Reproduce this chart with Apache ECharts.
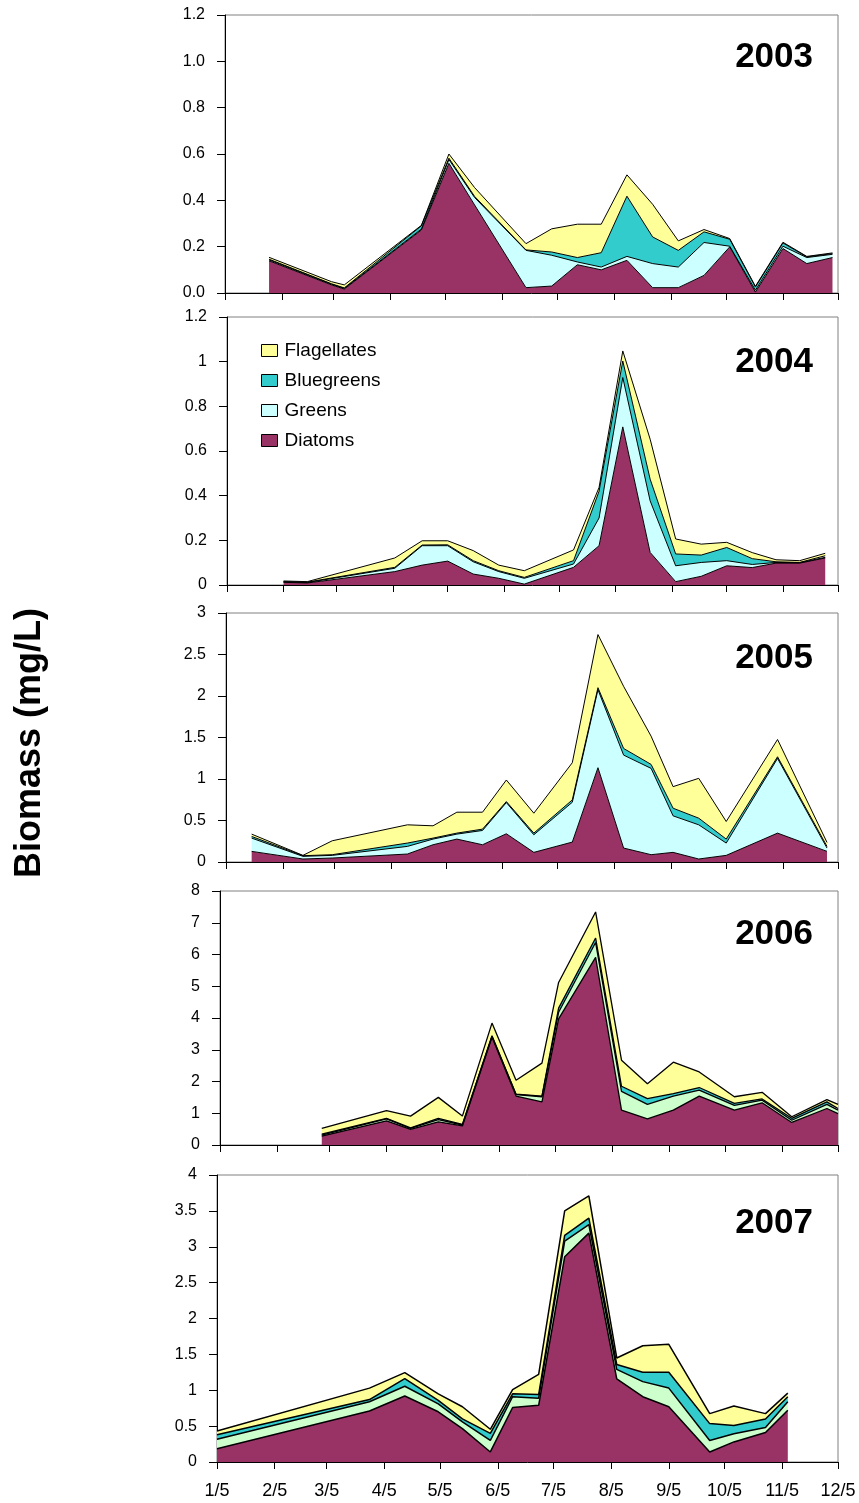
<!DOCTYPE html>
<html>
<head>
<meta charset="utf-8">
<script src="https://cdn.jsdelivr.net/npm/echarts@6/dist/echarts.min.js"></script>
<style>
  html, body { margin: 0; padding: 0; background: #fff; }
  #chart { width: 859px; height: 1503px; }
</style>
</head>
<body>
<div id="chart"></div>
<script>
(() => {
    // tick labels on the shared date axis (5th of each month)
    const TICK_LABELS = ['1/5', '2/5', '3/5', '4/5', '5/5', '6/5', '7/5', '8/5', '9/5', '10/5', '11/5', '12/5'];
    const GROUPS = ['Diatoms', 'Greens', 'Bluegreens', 'Flagellates'];

    // 2003
    const dates2003 = ['01-29', '03-04', '03-11', '04-22', '05-07', '05-21', '06-18', '07-02', '07-16', '07-29',
                       '08-12', '08-26', '09-09', '09-23', '10-07', '10-21', '11-05', '11-18', '12-02'];
    const diatoms2003     = [0.139, 0.035, 0.017, 0.272, 0.560, 0.380, 0.023, 0.030, 0.122, 0.100, 0.141, 0.023, 0.023, 0.076, 0.199, 0.004, 0.192, 0.127, 0.153];
    const greens2003      = [0.004, 0.003, 0.003, 0.004, 0.016, 0.032, 0.161, 0.133, 0.012, 0.012, 0.017, 0.104, 0.089, 0.142, 0.003, 0.008, 0.010, 0.026, 0.014];
    const bluegreens2003  = [0.003, 0.002, 0.002, 0.014, 0.006, 0.005, 0.002, 0.014, 0.019, 0.062, 0.260, 0.115, 0.072, 0.046, 0.030, 0.014, 0.014, 0.003, 0.003];
    const flagellates2003 = [0.008, 0.009, 0.013, 0.002, 0.018, 0.038, 0.027, 0.100, 0.144, 0.123, 0.092, 0.141, 0.041, 0.010, 0.003, 0.003, 0.003, 0.002, 0.003];

    // 2004
    const dates2004 = ['02-05', '02-18', '04-06', '04-21', '05-05', '05-19', '06-02', '06-16', '07-13', '07-27',
                       '08-09', '08-24', '09-07', '09-21', '10-05', '10-19', '11-01', '11-14', '11-28'];
    const diatoms2004     = [0.012, 0.009, 0.060, 0.089, 0.107, 0.049, 0.030, 0.004, 0.079, 0.176, 0.708, 0.146, 0.015, 0.039, 0.086, 0.078, 0.098, 0.098, 0.121];
    const greens2004      = [0.002, 0.002, 0.015, 0.087, 0.069, 0.055, 0.030, 0.026, 0.015, 0.124, 0.221, 0.231, 0.071, 0.062, 0.023, 0.014, 0.003, 0.002, 0.003];
    const bluegreens2004  = [0.001, 0.002, 0.004, 0.003, 0.004, 0.005, 0.004, 0.004, 0.015, 0.120, 0.074, 0.097, 0.053, 0.033, 0.059, 0.026, 0.003, 0.001, 0.007];
    const flagellates2004 = [0.003, 0.002, 0.042, 0.019, 0.018, 0.045, 0.025, 0.030, 0.048, 0.017, 0.045, 0.179, 0.067, 0.049, 0.023, 0.027, 0.009, 0.008, 0.011];

    // 2005
    const dates2005 = ['01-19', '02-16', '03-04', '04-14', '04-28', '05-11', '05-25', '06-07', '06-22', '07-13',
                       '07-27', '08-10', '08-25', '09-06', '09-20', '10-05', '11-02', '11-29'];
    const diatoms2005     = [0.128, 0.036, 0.048, 0.096, 0.208, 0.276, 0.208, 0.340, 0.116, 0.240, 1.136, 0.168, 0.088, 0.116, 0.036, 0.080, 0.348, 0.128];
    const greens2005      = [0.160, 0.032, 0.032, 0.092, 0.068, 0.060, 0.172, 0.376, 0.212, 0.480, 0.940, 1.120, 1.040, 0.440, 0.412, 0.148, 0.900, 0.040];
    const bluegreens2005  = [0.020, 0.008, 0.008, 0.040, 0.012, 0.012, 0.016, 0.012, 0.020, 0.028, 0.024, 0.080, 0.048, 0.092, 0.080, 0.048, 0.020, 0.020];
    const flagellates2005 = [0.028, 0.004, 0.168, 0.220, 0.148, 0.252, 0.204, 0.260, 0.240, 0.448, 0.640, 0.748, 0.340, 0.260, 0.480, 0.212, 0.208, 0.048];

    // 2006
    const dates2006 = ['03-01', '04-05', '04-18', '05-03', '05-16', '06-01', '06-14', '06-28', '07-07', '07-27',
                       '08-10', '08-24', '09-07', '09-21', '10-10', '10-25', '11-10', '11-29', '12-05'];
    const diatoms2006     = [0.28, 0.76, 0.49, 0.73, 0.60, 3.40, 1.54, 1.36, 3.97, 5.91, 1.10, 0.82, 1.10, 1.54, 1.10, 1.33, 0.71, 1.15, 0.99];
    const greens2006      = [0.03, 0.06, 0.03, 0.07, 0.03, 0.02, 0.05, 0.16, 0.21, 0.47, 0.59, 0.46, 0.44, 0.19, 0.15, 0.08, 0.07, 0.13, 0.11];
    const bluegreens2006  = [0.035, 0.02, 0.02, 0.04, 0.02, 0.02, 0.01, 0.02, 0.13, 0.14, 0.16, 0.18, 0.08, 0.08, 0.06, 0.04, 0.06, 0.08, 0.05];
    const flagellates2006 = [0.175, 0.24, 0.37, 0.66, 0.26, 0.40, 0.44, 1.04, 0.81, 0.82, 0.82, 0.47, 0.99, 0.49, 0.21, 0.21, 0.05, 0.07, 0.13];

    // 2007
    const dates2007 = ['01-05', '03-28', '04-16', '05-04', '05-17', '06-01', '06-13', '06-27', '07-11', '07-24',
                       '08-08', '08-22', '09-05', '09-27', '10-10', '10-27', '11-08'];
    const diatoms2007     = [0.186, 0.71, 0.92, 0.70, 0.465, 0.14, 0.76, 0.79, 2.86, 3.19, 1.16, 0.91, 0.77, 0.14, 0.28, 0.41, 0.72];
    const greens2007      = [0.130, 0.13, 0.136, 0.11, 0.095, 0.16, 0.15, 0.10, 0.22, 0.12, 0.13, 0.21, 0.26, 0.16, 0.115, 0.07, 0.12];
    const bluegreens2007  = [0.065, 0.03, 0.107, 0.05, 0.04, 0.10, 0.04, 0.05, 0.08, 0.09, 0.07, 0.13, 0.22, 0.235, 0.115, 0.12, 0.07];
    const flagellates2007 = [0.052, 0.16, 0.083, 0.09, 0.17, 0.056, 0.06, 0.28, 0.34, 0.31, 0.09, 0.37, 0.39, 0.139, 0.27, 0.074, 0.05];

    const DATA = {
        2003: [dates2003, diatoms2003, greens2003, bluegreens2003, flagellates2003],
        2004: [dates2004, diatoms2004, greens2004, bluegreens2004, flagellates2004],
        2005: [dates2005, diatoms2005, greens2005, bluegreens2005, flagellates2005],
        2006: [dates2006, diatoms2006, greens2006, bluegreens2006, flagellates2006],
        2007: [dates2007, diatoms2007, greens2007, bluegreens2007, flagellates2007]
    };

    // layout of the five panels
    const PANELS = [
        {year: 2003, left: 225, top: 15,   height: 278, max: 1.2, interval: 0.2, fixed: true,  greens: '#CCFFFF', lw: 1,   titleY: 55},
        {year: 2004, left: 227, top: 317,  height: 268, max: 1.2, interval: 0.2, fixed: false, greens: '#CCFFFF', lw: 1,   titleY: 360},
        {year: 2005, left: 226, top: 613,  height: 249, max: 3,   interval: 0.5, fixed: false, greens: '#CCFFFF', lw: 1,   titleY: 656},
        {year: 2006, left: 220, top: 891,  height: 254, max: 8,   interval: 1,   fixed: false, greens: '#CCFFCC', lw: 1.3, titleY: 932},
        {year: 2007, left: 217, top: 1175, height: 287, max: 4,   interval: 0.5, fixed: false, greens: '#CCFFCC', lw: 1.5, titleY: 1221}
    ];
    const COLORS = {Diatoms: '#993366', Bluegreens: '#33CCCC', Flagellates: '#FFFF99'};
    const FONT = '"Liberation Sans", Arial, sans-serif';
    const DAY = 86400000;

    // days since 5 January of the same year
    function dayOf(year, month, day) {
        return Math.round((Date.UTC(year, month, day) - Date.UTC(year, 0, 5)) / DAY);
    }

    const grid = [], xAxis = [], yAxis = [], series = [], title = [];

    PANELS.forEach((p, i) => {
        const y = p.year;
        const isLast = i === PANELS.length - 1;
        const ticks = TICK_LABELS.map((t, m) => dayOf(y, m, 5));

        grid.push({
            left: p.left, top: p.top, right: 21, height: p.height,
            show: true, borderColor: '#808080', borderWidth: 1
        });
        xAxis.push({
            type: 'value', gridIndex: i,
            min: 0, max: ticks[ticks.length - 1],
            axisLine: {show: true, onZero: false, lineStyle: {color: '#000', width: 1}},
            axisTick: {show: true, length: 7, lineStyle: {color: '#000'}, customValues: ticks},
            axisLabel: {
                show: isLast, customValues: ticks, color: '#000', fontSize: 18, fontFamily: FONT, margin: 20,
                formatter: v => TICK_LABELS[ticks.indexOf(Math.round(v))]
            },
            splitLine: {show: false}
        });
        yAxis.push({
            type: 'value', gridIndex: i, min: 0, max: p.max, interval: p.interval,
            axisLine: {show: true, lineStyle: {color: '#000', width: 1}},
            axisTick: {show: true, length: 8, lineStyle: {color: '#000'}},
            axisLabel: {
                color: '#000', fontSize: 16, fontFamily: FONT, margin: 20,
                formatter: v => p.fixed ? v.toFixed(1) : String(+v.toFixed(2))
            },
            splitLine: {show: false}
        });
        title.push({
            text: String(y), right: 41, top: p.titleY - 20,
            textStyle: {fontSize: 35, fontWeight: 'bold', fontFamily: FONT, color: '#000'}
        });

        const [dates, ...vals] = DATA[y];
        const xs = dates.map(d => dayOf(y, +d.slice(0, 2) - 1, +d.slice(3)));
        GROUPS.forEach((g, k) => {
            const c = g === 'Greens' ? p.greens : COLORS[g];
            series.push({
                type: 'line', name: g, xAxisIndex: i, yAxisIndex: i, stack: 'y' + y,
                // value first so the stack runs along the y axis
                data: xs.map((x, j) => [vals[k][j], x]),
                encode: {x: 1, y: 0},
                symbol: 'none', showSymbol: false,
                lineStyle: {color: '#000', width: p.lw},
                areaStyle: {color: c, opacity: 1},
                itemStyle: {color: c},
                emphasis: {disabled: true},
                z: 2
            });
        });
    });

    const legendColors = {Flagellates: '#FFFF99', Bluegreens: '#33CCCC', Greens: '#CCFFFF', Diatoms: '#993366'};

    const chart = echarts.init(document.getElementById('chart'));
    chart.setOption({
        animation: false,
        backgroundColor: '#fff',
        title,
        grid, xAxis, yAxis, series,
        legend: {
            orient: 'vertical', left: 256, top: 336,
            itemWidth: 16, itemHeight: 12, itemGap: 11,
            selectedMode: false,
            data: ['Flagellates', 'Bluegreens', 'Greens', 'Diatoms'].map(n => ({
                name: n, icon: 'rect',
                itemStyle: {color: legendColors[n], borderColor: '#000', borderWidth: 1}
            })),
            textStyle: {fontSize: 19, fontFamily: FONT, color: '#000', lineHeight: 18, padding: [0, 0, 0, 2]}
        },
        graphic: [{
            type: 'text', x: 30, y: 743, rotation: Math.PI / 2,
            style: {
                text: 'Biomass (mg/L)', fill: '#000',
                font: 'bold 36px ' + FONT,
                textAlign: 'center', textVerticalAlign: 'middle'
            }
        }]
    });
})();
</script>
</body>
</html>
